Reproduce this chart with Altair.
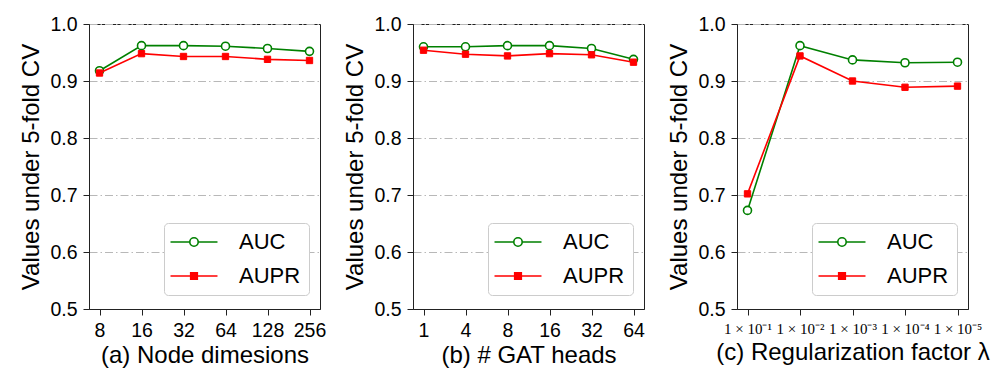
import altair as alt
import pandas as pd

# ---- data ----
dims = ["8", "16", "32", "64", "128", "256"]
dims_auc = [0.918, 0.962, 0.962, 0.961, 0.957, 0.952]
dims_aupr = [0.914, 0.948, 0.943, 0.943, 0.938, 0.936]

heads = ["1", "4", "8", "16", "32", "64"]
heads_auc = [0.960, 0.960, 0.962, 0.962, 0.957, 0.938]
heads_aupr = [0.954, 0.947, 0.944, 0.948, 0.946, 0.933]

lams = ["1 × 10⁻¹", "1 × 10⁻²", "1 × 10⁻³", "1 × 10⁻⁴", "1 × 10⁻⁵"]
lams_auc = [0.673, 0.962, 0.937, 0.932, 0.933]
lams_aupr = [0.702, 0.944, 0.900, 0.889, 0.891]

series = ["AUC", "AUPR"]
colors = ["#008000", "#ff0000"]
fills = ["white", "#ff0000"]

FONT = "Liberation Sans"
W, H = 231, 285

# legend symbols: line + marker (unit coords, scaled by sqrt(size)/2)
AUC_PATH = ("M-2.61,0H-0.467M0.467,0H2.61M-0.467,0"
            "A0.467,0.467,0,1,1,0.467,0A0.467,0.467,0,1,1,-0.467,0Z")
AUPR_PATH = "M-2.61,0H2.61M-0.367,-0.367H0.367V0.367H-0.367Z"


def panel(cats, auc, aupr, title, pad, label_font, label_size):
    rows = []
    for c, a, b in zip(cats, auc, aupr):
        rows.append({"x": c, "v": a, "s": "AUC"})
        rows.append({"x": c, "v": b, "s": "AUPR"})
    df = pd.DataFrame(rows)

    x = alt.X("x:N", sort=cats,
              scale=alt.Scale(type="point", padding=pad),
              axis=alt.Axis(title=title, labelAngle=0, labelFont=label_font,
                            labelFontSize=label_size, grid=False,
                            titlePadding=4))
    y = alt.Y("v:Q", scale=alt.Scale(domain=[0.5, 1.0], nice=False, zero=False),
              axis=alt.Axis(title="Values under 5-fold CV", values=[0.5, 0.6, 0.7, 0.8, 0.9, 1.0],
                            format=".1f", grid=True, gridDash=[8, 3, 1.5, 3],
                            gridColor="#b8b8b8", gridWidth=1, labelPadding=6,
                            minExtent=40, maxExtent=40, titlePadding=6))

    base = alt.Chart(df)
    auc_line = base.transform_filter("datum.s == 'AUC'").mark_line(
        color=colors[0], strokeWidth=1.6).encode(x=x, y=y)
    auc_pts = base.transform_filter("datum.s == 'AUC'").mark_point(
        shape="circle", filled=True, fill="white", stroke=colors[0],
        strokeWidth=1.6, size=64, opacity=1).encode(x=x, y=y)
    aupr_line = base.transform_filter("datum.s == 'AUPR'").mark_line(
        color=colors[1], strokeWidth=1.6).encode(x=x, y=y)
    aupr_pts = base.transform_filter("datum.s == 'AUPR'").mark_point(
        shape="square", filled=True, fill=colors[1], stroke=colors[1],
        strokeWidth=1, size=40, opacity=1).encode(x=x, y=y)

    leg = alt.Legend(title=None, orient="none", legendX=75, legendY=199,
                     strokeColor="#cccccc", cornerRadius=4, fillColor="white",
                     padding=8, labelFont=FONT, labelFontSize=22, labelColor="black",
                     symbolSize=324, symbolOffset=11, labelOffset=34,
                     rowPadding=12, symbolStrokeWidth=1.6, labelLimit=300)
    legend_layer = base.transform_filter("false").mark_point(
        filled=True, size=324, opacity=1).encode(
        x=x, y=y,
        shape=alt.Shape("s:N", scale=alt.Scale(domain=series, range=[AUC_PATH, AUPR_PATH]),
                        legend=leg),
        stroke=alt.Stroke("s:N", scale=alt.Scale(domain=series, range=colors), legend=leg),
        fill=alt.Fill("s:N", scale=alt.Scale(domain=series, range=fills), legend=leg),
    )

    return alt.layer(auc_line, auc_pts, aupr_line, aupr_pts, legend_layer).properties(
        width=W, height=H)


pa = panel(dims, dims_auc, dims_aupr, "(a) Node dimesions", 0.25, FONT, 19.5)
pb = panel(heads, heads_auc, heads_aupr, "(b) #  GAT heads", 0.25, FONT, 19.5)
pc = panel(lams, lams_auc, lams_aupr, "(c) Regularization factor λ", 0.2,
           "Liberation Serif", 15)

chart = alt.hconcat(pa, pb, pc, spacing=93, bounds="flush").resolve_scale(
    shape="independent", stroke="independent", fill="independent"
).resolve_legend(
    shape="independent", stroke="independent", fill="independent"
).properties(
    padding={"left": 10, "top": 5, "right": 5, "bottom": 0}
).configure_view(
    stroke="#222222", strokeWidth=1
).configure_axis(
    domainColor="#222222", tickColor="#222222", tickSize=6, labelPadding=5,
    labelColor="black", titleColor="black", labelFont=FONT, titleFont=FONT,
    labelFontSize=19.5, titleFontSize=24, titleFontWeight="normal",
    domainWidth=1, tickWidth=1
).configure_axisX(labelPadding=6)

chart.save("out.html", embed_options={"renderer": "svg", "actions": False})
